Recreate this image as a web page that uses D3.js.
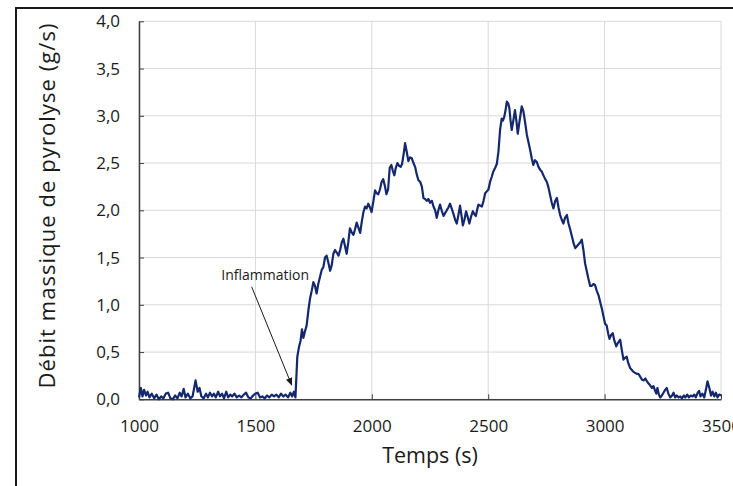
<!DOCTYPE html>
<html>
<head>
<meta charset="utf-8">
<script src="https://cdn.jsdelivr.net/npm/d3@7"></script>
<style>
  body { margin: 0; background: #fff; }
  text { font-family: "Open Sans", "Noto Sans", sans-serif; }
</style>
</head>
<body>
<div id="chart"></div>
<script>
"use strict";

// time (s) and pyrolysis mass rate (g/s)
const temps = [
  1000, 1008, 1015, 1022, 1030, 1037, 1045, 1055, 1065, 1075, 1085, 1095, 1105, 1115, 1125, 1135,
  1145, 1155, 1165, 1175, 1183, 1192, 1200, 1210, 1220, 1230, 1243, 1252, 1260, 1268, 1278, 1288,
  1296, 1305, 1314, 1322, 1330, 1340, 1348, 1357, 1365, 1375, 1383, 1392, 1400, 1410, 1420, 1430,
  1440, 1450, 1460, 1470, 1480, 1490, 1500, 1510, 1520, 1530, 1540, 1550, 1560, 1570, 1580, 1590,
  1600, 1610, 1620, 1630, 1640, 1650, 1658, 1665, 1672,
  1680, 1687, 1694, 1700, 1706, 1713, 1720, 1728, 1735, 1742, 1749, 1756, 1763, 1770, 1778, 1785,
  1792, 1799, 1806, 1813, 1821, 1828, 1835, 1842, 1850, 1857, 1864, 1871, 1878, 1885, 1892, 1899,
  1906, 1913, 1921, 1928, 1935, 1942, 1950, 1957, 1964, 1971, 1978, 1985, 1992, 1999, 2007, 2014,
  2021, 2028, 2035, 2042, 2049, 2056, 2063, 2070, 2077, 2084, 2090, 2097, 2103, 2110, 2117, 2124,
  2130, 2137, 2143, 2150, 2157, 2164, 2172, 2179, 2186, 2193, 2200, 2208, 2215, 2222, 2229, 2236,
  2243, 2250, 2258, 2265, 2272, 2279, 2286, 2293, 2300, 2308, 2315, 2322, 2329, 2336, 2343, 2351,
  2358, 2365, 2372, 2379, 2385, 2391, 2398, 2405, 2412, 2419, 2426, 2434, 2440, 2447, 2452, 2458,
  2465, 2473, 2480, 2487, 2494, 2501, 2508, 2516, 2522, 2530, 2537, 2544, 2551, 2558, 2563, 2568,
  2574, 2580, 2586, 2591, 2596, 2601, 2608, 2615, 2621, 2627, 2635, 2644, 2651, 2658, 2666, 2673,
  2680, 2687, 2694, 2701, 2709, 2716, 2723, 2730, 2737, 2745, 2752, 2759, 2766, 2773, 2780, 2788,
  2795, 2802, 2809, 2816, 2823, 2830, 2838, 2845, 2852, 2860, 2867, 2874, 2881, 2888, 2895, 2902,
  2909, 2916, 2923, 2930, 2938, 2945, 2952, 2959, 2966, 2974, 2981, 2988, 2995, 3002, 3009, 3015,
  3021, 3028, 3035, 3042, 3050, 3058, 3067, 3074, 3081, 3088, 3095, 3102, 3110, 3117, 3124, 3131,
  3138, 3145, 3153, 3160, 3167, 3175, 3182, 3188, 3195, 3203, 3210, 3217, 3222, 3227, 3233, 3239,
  3246, 3253, 3260, 3267, 3274, 3282, 3290, 3296, 3303, 3310, 3318, 3325, 3332, 3340, 3347, 3355,
  3362, 3370, 3378, 3385, 3392, 3400, 3406, 3412, 3420, 3428, 3435, 3442, 3450, 3457, 3464, 3471,
  3478, 3485, 3492, 3500
];
const debit = [
  0.02, 0.12, 0.03, 0.10, 0.04, 0.08, 0.02, 0.06, 0.01, 0.05, 0.00, 0.03, 0.01, 0.06, 0.07, 0.01,
  0.00, 0.04, 0.01, 0.07, 0.03, 0.11, 0.02, 0.06, 0.01, 0.03, 0.20, 0.08, 0.12, 0.03, 0.01, 0.06,
  0.02, 0.07, 0.03, 0.06, 0.02, 0.08, 0.03, 0.06, 0.01, 0.08, 0.02, 0.05, 0.03, 0.06, 0.02, 0.04,
  0.02, 0.05, 0.07, 0.02, 0.01, 0.04, 0.06, 0.07, 0.02, 0.03, 0.01, 0.04, 0.02, 0.05, 0.03, 0.05,
  0.02, 0.06, 0.03, 0.05, 0.02, 0.07, 0.03, 0.08, 0.02,
  0.45, 0.55, 0.62, 0.74, 0.65, 0.72, 0.78, 0.95, 1.07, 1.15, 1.24, 1.20, 1.12, 1.22, 1.30, 1.37,
  1.40, 1.50, 1.52, 1.45, 1.36, 1.42, 1.54, 1.58, 1.55, 1.52, 1.58, 1.66, 1.70, 1.62, 1.54, 1.66,
  1.81, 1.77, 1.74, 1.80, 1.87, 1.82, 1.76, 1.88, 1.98, 2.04, 2.02, 2.07, 2.03, 1.98, 2.10, 2.21,
  2.18, 2.17, 2.22, 2.30, 2.33, 2.26, 2.17, 2.22, 2.45, 2.48, 2.42, 2.37, 2.45, 2.50, 2.47, 2.46,
  2.49, 2.60, 2.71, 2.62, 2.52, 2.56, 2.55, 2.50, 2.46, 2.38, 2.32, 2.30, 2.25, 2.13, 2.12, 2.10,
  2.12, 2.08, 2.10, 2.04, 2.00, 1.92, 2.00, 2.06, 2.00, 1.94, 1.97, 2.00, 2.03, 2.07, 2.02, 1.96,
  1.90, 1.86, 1.95, 2.05, 1.95, 1.84, 1.90, 1.99, 1.93, 1.86, 1.93, 1.99, 1.96, 1.94, 2.00, 2.06,
  2.05, 2.04, 2.10, 2.18, 2.20, 2.22, 2.30, 2.36, 2.41, 2.45, 2.49, 2.62, 2.85, 2.97, 2.95, 2.98,
  3.05, 3.15, 3.13, 3.08, 2.95, 2.85, 2.95, 3.06, 2.95, 2.81, 2.95, 3.10, 3.05, 2.94, 2.80, 2.72,
  2.64, 2.55, 2.48, 2.53, 2.51, 2.46, 2.43, 2.41, 2.37, 2.33, 2.30, 2.24, 2.16, 2.08, 2.02, 2.10,
  2.13, 2.03, 1.95, 1.90, 1.86, 1.92, 1.95, 1.86, 1.80, 1.72, 1.65, 1.60, 1.62, 1.64, 1.66, 1.69,
  1.58, 1.44, 1.36, 1.28, 1.20, 1.20, 1.22, 1.21, 1.15, 1.10, 1.03, 0.96, 0.88, 0.80, 0.78, 0.70,
  0.64, 0.68, 0.70, 0.62, 0.56, 0.60, 0.63, 0.52, 0.42, 0.44, 0.45, 0.38, 0.33, 0.31, 0.29, 0.28,
  0.27, 0.27, 0.24, 0.21, 0.20, 0.22, 0.19, 0.17, 0.15, 0.12, 0.14, 0.09, 0.06, 0.12, 0.05, 0.02,
  0.04, 0.07, 0.10, 0.12, 0.06, 0.02, 0.04, 0.07, 0.02, 0.04, 0.02, 0.03, 0.01, 0.04, 0.02, 0.05,
  0.02, 0.04, 0.03, 0.05, 0.02, 0.07, 0.09, 0.03, 0.06, 0.02, 0.10, 0.19, 0.12, 0.04, 0.08, 0.03,
  0.07, 0.02, 0.05, 0.04
];

const xTicks = [1000, 1500, 2000, 2500, 3000, 3500];
const yTicks = [0, 0.5, 1, 1.5, 2, 2.5, 3, 3.5, 4];

// annotation: label position and arrow (data coordinates)
const noteText = "Inflammation";
const noteLabel = [1542, 1.32];
const noteArrow = [[1484, 1.19], [1656, 0.15]];

const msm = {
    width: 733,
    height: 486,
    left: 139,
    right: 721,
    top: 21.3,
    bottom: 399.3
}

const svg = d3.select("#chart")
    .append("svg")
    .attr("width", msm.width)
    .attr("height", msm.height);

// outer frame (cut off on the right and bottom like the picture)
svg.append("rect")
    .attr("x", 16)
    .attr("y", 8)
    .attr("width", 800)
    .attr("height", 600)
    .attr("fill", "none")
    .attr("stroke", "#1a1a1a")
    .attr("stroke-width", 2);

const x = d3.scaleLinear().domain([1000, 3500]).range([msm.left, msm.right]);
const y = d3.scaleLinear().domain([0, 4]).range([msm.bottom, msm.top]);

// gridlines
svg.append("g")
    .selectAll("line")
    .data(yTicks)
    .join("line")
    .attr("x1", msm.left)
    .attr("x2", msm.right)
    .attr("y1", d => y(d))
    .attr("y2", d => y(d))
    .attr("stroke", "#d9d9d9")
    .attr("stroke-width", 1);

svg.append("g")
    .selectAll("line")
    .data(xTicks)
    .join("line")
    .attr("x1", d => x(d))
    .attr("x2", d => x(d))
    .attr("y1", msm.top)
    .attr("y2", msm.bottom)
    .attr("stroke", "#d9d9d9")
    .attr("stroke-width", 1);

const fmt = d => d3.format(".1f")(d).replace(".", ",");

// axes with inward ticks
const xAxis = d3.axisBottom(x).tickValues(xTicks).tickFormat(d3.format("d"))
    .tickSizeInner(-5).tickSizeOuter(0).tickPadding(21);
const gx = svg.append("g")
    .attr("transform", "translate(0," + msm.bottom + ")")
    .call(xAxis);

const yAxis = d3.axisLeft(y).tickValues(yTicks).tickFormat(fmt)
    .tickSizeInner(-5).tickSizeOuter(0).tickPadding(19);
const gy = svg.append("g")
    .attr("transform", "translate(" + msm.left + ",0)")
    .call(yAxis);

[gx, gy].forEach(g => {
    g.select(".domain").attr("stroke", "#404040").attr("stroke-width", 1.5);
    g.selectAll(".tick line").attr("stroke", "#404040");
    g.selectAll(".tick text")
        .attr("fill", "#1a1a1a")
        .style("font-size", "17px")
        .style("font-family", "'Open Sans', sans-serif");
});

// the data line
const line = d3.line()
    .x((d, i) => x(temps[i]))
    .y(d => y(d));

svg.append("path")
    .datum(debit)
    .attr("d", line)
    .attr("fill", "none")
    .attr("stroke", "#14286e")
    .attr("stroke-width", 2.2)
    .attr("stroke-linejoin", "round");

// annotation
svg.append("defs").append("marker")
    .attr("id", "arrow")
    .attr("viewBox", "0 0 10 10")
    .attr("refX", 9)
    .attr("refY", 5)
    .attr("markerWidth", 8)
    .attr("markerHeight", 8)
    .attr("orient", "auto")
    .append("path")
    .attr("d", "M0,1 L10,5 L0,9 Z")
    .attr("fill", "#1a1a1a");

svg.append("line")
    .attr("x1", x(noteArrow[0][0]))
    .attr("y1", y(noteArrow[0][1]))
    .attr("x2", x(noteArrow[1][0]))
    .attr("y2", y(noteArrow[1][1]))
    .attr("stroke", "#1a1a1a")
    .attr("stroke-width", 1)
    .attr("marker-end", "url(#arrow)");

svg.append("text")
    .attr("x", x(noteLabel[0]))
    .attr("y", y(noteLabel[1]))
    .attr("text-anchor", "middle")
    .attr("dominant-baseline", "central")
    .style("font-size", "14px")
    .attr("fill", "#1a1a1a")
    .text(noteText);

// axis titles
svg.append("text")
    .attr("x", 430)
    .attr("y", 463)
    .attr("text-anchor", "middle")
    .style("font-size", "21.5px")
    .attr("fill", "#1a1a1a")
    .text("Temps (s)");

svg.append("text")
    .attr("transform", "translate(55,206) rotate(-90)")
    .attr("text-anchor", "middle")
    .style("font-size", "22px")
    .attr("textLength", 365)
    .attr("lengthAdjust", "spacing")
    .attr("fill", "#1a1a1a")
    .text("Débit massique de pyrolyse (g/s)");
</script>
</body>
</html>
